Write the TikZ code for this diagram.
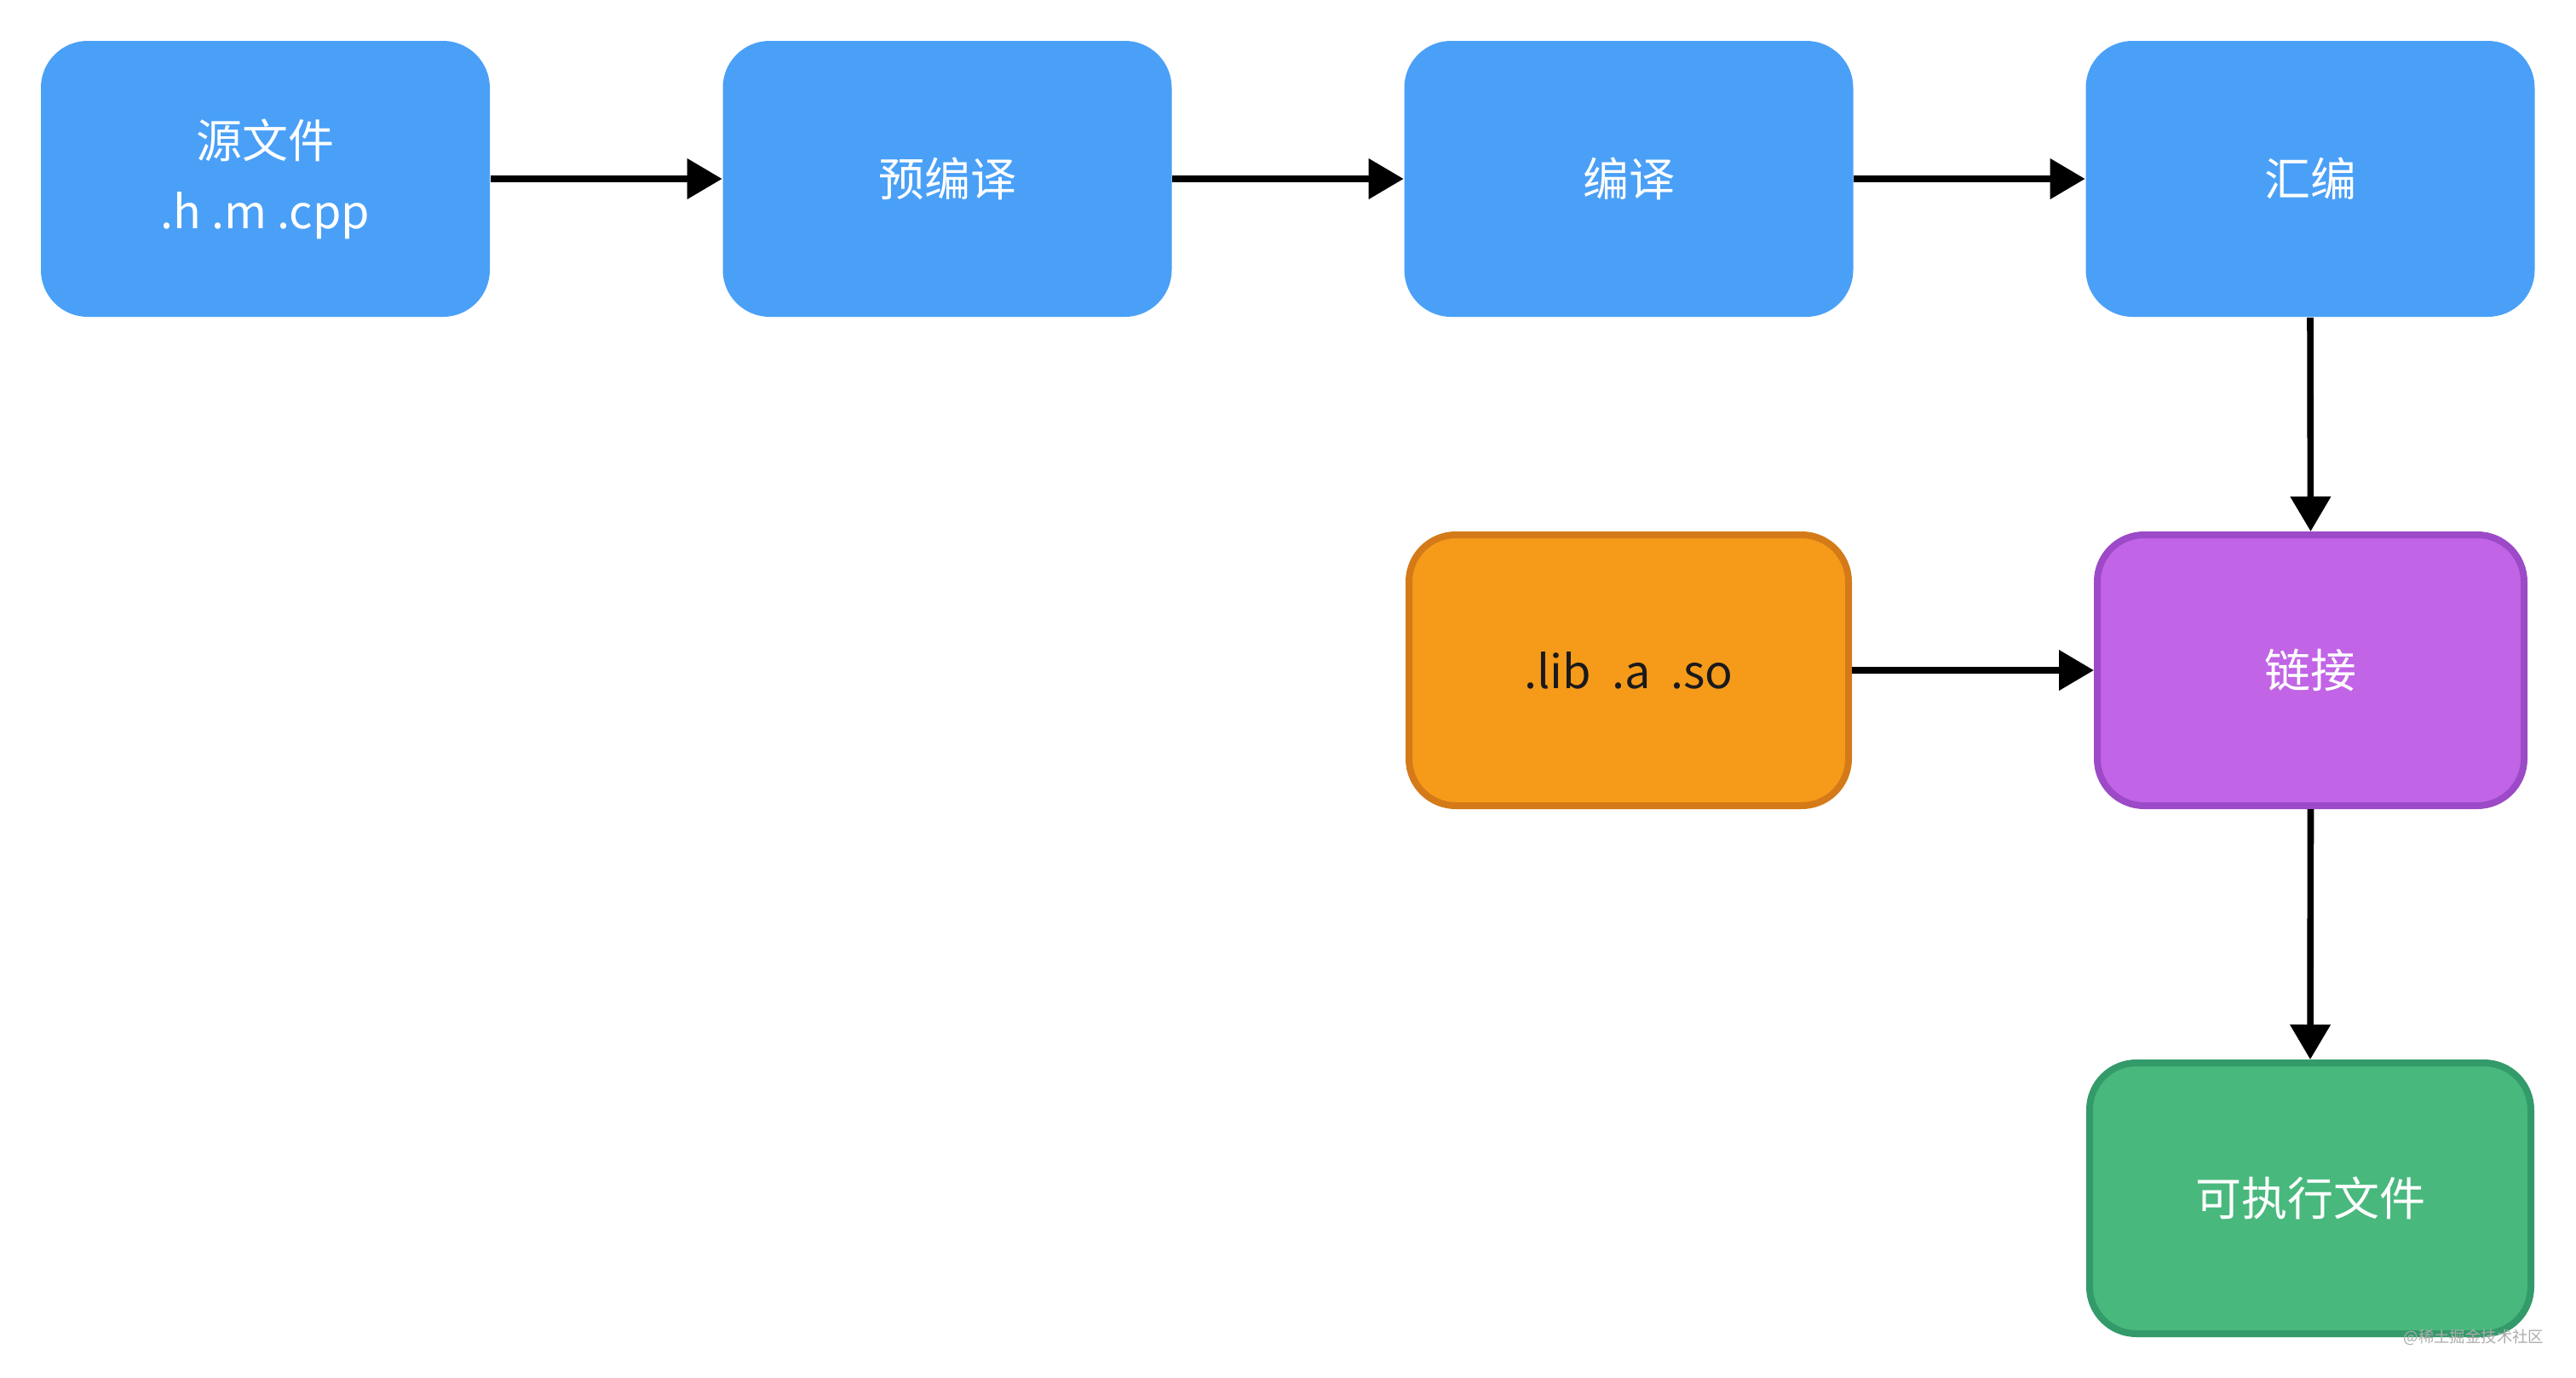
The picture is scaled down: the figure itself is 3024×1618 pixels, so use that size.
\documentclass[tikz,border=0pt]{standalone}
\usepackage{fontspec}
\setmainfont{Noto Sans CJK SC}
\usetikzlibrary{arrows.meta}
\definecolor{cblue}{RGB}{74,160,247}
\definecolor{corange}{RGB}{246,154,26}
\definecolor{corangeB}{RGB}{212,122,24}
\definecolor{cpurple}{RGB}{194,100,230}
\definecolor{cpurpleB}{RGB}{156,74,199}
\definecolor{cgreen}{RGB}{73,184,125}
\definecolor{cgreenB}{RGB}{51,154,106}
\definecolor{ctext}{RGB}{26,26,26}
\tikzset{
  box/.style={rectangle, rounded corners=13.75pt, align=center, inner sep=0pt,
    font=\fontsize{13.5pt}{20.75pt}\selectfont},
  bluebox/.style={box, fill=cblue, text=white, minimum width=131.75pt, minimum height=81pt},
  libbox/.style={box, fill=corange, draw=corangeB, line width=2pt, text=ctext,
    minimum width=129pt, minimum height=79.5pt},
  linkbox/.style={box, fill=cpurple, draw=cpurpleB, line width=2pt, text=white,
    minimum width=125.25pt, minimum height=79.5pt},
  exebox/.style={box, fill=cgreen, draw=cgreenB, line width=2pt, text=white,
    minimum width=129.5pt, minimum height=79.5pt},
  conn/.style={line width=1.9pt, -{Triangle[length=10.25pt, width=11.5pt]}},
}
\begin{document}
\begin{tikzpicture}[x=0.25pt, y=-0.25pt]
\useasboundingbox (0,0) rectangle (3024,1618);
\node[bluebox] (src) at (311.5,210) {源文件\\.h .m .cpp};
\node[bluebox] (pre) at (1112,210) {预编译};
\node[bluebox] (cmp) at (1912,210) {编译};
\node[bluebox] (asm) at (2712,210) {汇编};
\node[libbox] (lib) at (1912,787) {.lib\ \ .a\ \ .so};
\node[linkbox] (lnk) at (2712.5,787) {链接};
\node[exebox] (exe) at (2712,1407) {可执行文件};
\node[text=gray!65, font=\fontsize{4.6pt}{5pt}\selectfont, inner sep=0pt] (wm) at (2904,1570) {@稀土掘金技术社区};
\draw[conn] (src.east) -- (pre.west);
\draw[conn] (pre.east) -- (cmp.west);
\draw[conn] (cmp.east) -- (asm.west);
\draw[conn] (asm.south) -- (lnk.north);
\draw[conn] (lib.east) -- (lnk.west);
\draw[conn] (lnk.south) -- (exe.north);
\end{tikzpicture}
\end{document}
